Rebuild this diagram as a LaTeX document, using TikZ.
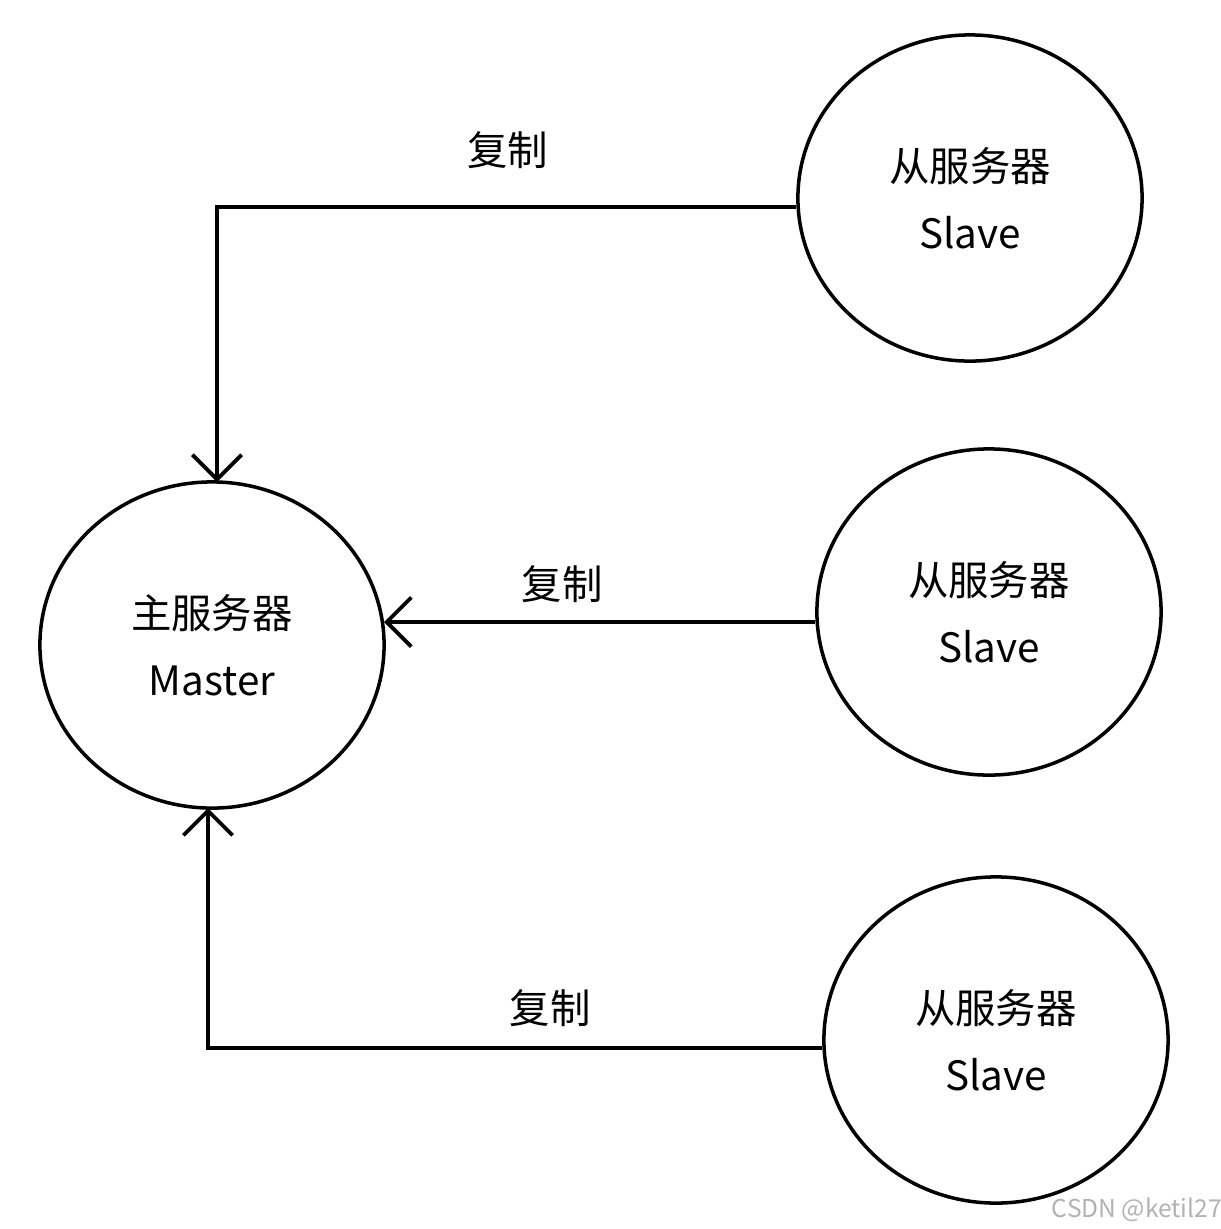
\documentclass[tikz,border=0pt]{standalone}
\usepackage{fontspec}
\setmainfont{Noto Sans CJK SC}
\usetikzlibrary{shapes.geometric,arrows.meta}
\tikzset{
  server/.style={draw, ellipse, line width=1pt, minimum width=3.44cm, minimum height=3.26cm, align=center, font=\fontsize{11.5}{19}\selectfont},
  copyline/.style={line width=1.1pt, -{Straight Barb[length=7pt,width=14pt,line width=1.1pt]}},
  copylabel/.style={font=\fontsize{11.5}{14}\selectfont}
}
\begin{document}
\begin{tikzpicture}[x=0.01cm, y=-0.01cm]
  \useasboundingbox (0,0) rectangle (1221,1229);

  \node[server] (master) at (212,645) {主服务器\\Master};
  \node[server] (slaveA) at (970,198) {从服务器\\Slave};
  \node[server] (slaveB) at (989,612) {从服务器\\Slave};
  \node[server] (slaveC) at (996,1040) {从服务器\\Slave};

  \coordinate (tipA) at (217,482);
  \coordinate (tipB) at (384,622);
  \coordinate (tipC) at (208,808);

  \draw[copyline] (slaveA.west |- 0,207) -| (tipA);
  \draw[copyline] (slaveB.west |- tipB) -- (tipB);
  \draw[copyline] (slaveC.west |- 0,1048) -| (tipC);

  \node[copylabel] (labelA) at (508,150) {复制};
  \node[copylabel] (labelB) at (562,584) {复制};
  \node[copylabel] (labelC) at (550,1008) {复制};

  \node[text=gray!60, font=\fontsize{7}{8}\selectfont] (mark) at (1137,1210) {CSDN @ketil27};
\end{tikzpicture}
\end{document}
